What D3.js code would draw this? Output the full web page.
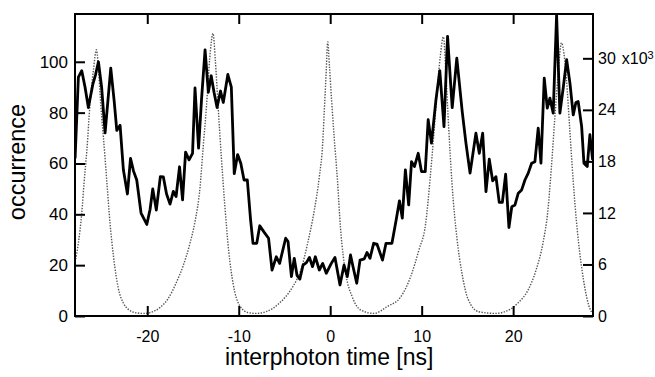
<!DOCTYPE html>
<html>
<head>
<meta charset="utf-8">
<script src="https://cdn.jsdelivr.net/npm/d3@7"></script>
<style>
  body { margin: 0; background: #fff; }
  text { font-family: "Liberation Sans", Arial, sans-serif; fill: #000; }
</style>
</head>
<body>
<script>
// histogram (occurrence, left axis)
var histX = [-27.89, -27.53, -27.16, -26.80, -26.44, -25.96, -25.65, -25.34, -24.99, -24.61,
  -23.99, -23.63, -23.33, -22.97, -22.61, -22.17, -21.83, -21.50, -21.15, -20.68,
  -20.05, -19.69, -19.40, -19.01, -18.57, -18.24, -17.89, -17.51, -17.15, -16.85,
  -16.47, -16.14, -15.81, -15.43, -15.05, -14.78, -14.39, -14.07, -13.68, -13.32,
  -13.01, -12.70, -12.37, -11.99, -11.69, -11.19, -10.81, -10.49, -10.12, -9.77,
  -9.42, -9.06, -8.71, -8.44, -8.03, -7.70, -7.23, -6.74, -6.36, -5.89,
  -5.53, -4.87, -4.61, -4.24, -3.93, -3.63, -3.32, -2.97, -2.60, -2.27,
  -1.93, -1.63, -1.19, -0.82, -0.43, 0.12, 0.52, 1.07, 1.51, 1.87,
  2.22, 2.52, 2.90, 3.26, 3.73, 4.02, 4.35, 4.75, 5.11, 5.72,
  6.10, 6.75, 7.21, 7.57, 7.88, 8.22, 8.58, 8.89, 9.21, 9.62,
  9.98, 10.39, 10.71, 11.07, 11.56, 11.98, 12.44, 12.83, 13.34, 13.84,
  14.43, 14.84, 15.29, 15.93, 16.30, 16.67, 17.03, 17.39, 17.76, 18.12,
  18.48, 18.82, 19.18, 19.54, 19.85, 20.20, 20.56, 20.93, 21.29, 21.65,
  22.02, 22.38, 22.74, 23.04, 23.40, 23.73, 24.02, 24.38, 24.75, 25.11,
  25.47, 25.85, 26.21, 26.57, 26.86, 27.11, 27.49, 27.74, 28.10, 28.39, 28.69];
var histY = [62, 94, 96.5, 90, 82, 91, 95, 100, 90, 72,
  97.5, 85, 73, 75, 57.5, 48, 62, 57, 53.5, 40.5,
  36, 42, 50, 41.7, 54.8, 54.7, 48, 44, 49, 47,
  58.7, 45.7, 64.5, 61.4, 64, 89.7, 66, 85, 104.7, 88,
  94.5, 88, 82, 88.5, 84, 95, 90, 56, 63.5, 60,
  53.5, 53.5, 38, 28.6, 28.6, 35.5, 33, 30.6, 18.1, 23.3,
  20.7, 30.6, 29.3, 15.5, 22.7, 16, 14.5, 20, 21, 23,
  19.4, 23.3, 18.1, 20.7, 16.8, 20.7, 23, 12.2, 20, 15.5,
  24, 19, 12.9, 22, 22.5, 25, 22.7, 28.6, 28.3, 22,
  28.6, 28.6, 37.8, 45.3, 38.5, 57.5, 43.7, 60.7, 58.8, 64,
  56.8, 56.8, 77.2, 68, 85, 96.5, 74.5, 110, 82, 101.4,
  80.5, 68, 56.2, 71.9, 64, 71.9, 48.9, 61.7, 53.2, 54.8,
  44.7, 44.7, 55.8, 34.8, 43, 43.7, 48.3, 49.6, 53.5, 56.2,
  60.1, 60.7, 73.9, 60.1, 93.6, 81.8, 85.7, 79.8, 118.5, 79.8,
  89.6, 100.8, 91.6, 79.1, 84, 84.4, 74.5, 60.1, 58.8, 71.3, 61.4];

// dotted reference curve (right axis, x10^3)
var refX = [-27.89, -27.53, -27.16, -26.91, -26.61, -26.25, -25.89, -25.56, -25.38, -25.16,
  -24.97, -24.80, -24.43, -24.07, -23.70, -23.41, -23.16, -22.61, -22.10, -21.33,
  -20.46, -19.69, -18.60, -17.73, -16.78, -16.09, -15.32, -14.78, -14.23, -13.90,
  -13.52, -13.17, -12.81, -12.56, -12.26, -11.90, -11.53, -11.09, -10.62, -9.89,
  -8.98, -8.11, -7.02, -5.56, -4.10, -3.19, -2.46, -1.74, -1.19, -0.82,
  -0.64, -0.46, -0.27, -0.08, 0.16, 0.42, 0.78, 1.13, 1.69, 2.42,
  3.33, 4.79, 6.24, 7.70, 8.80, 9.70, 10.44, 10.94, 11.31, 11.67,
  12.03, 12.38, 12.66, 12.95, 13.31, 13.86, 14.40, 15.06, 16.23, 18.04,
  19.87, 20.52, 21.62, 22.52, 23.26, 23.80, 24.16, 24.54, 24.90, 25.28,
  25.83, 26.19, 26.56, 27.01, 27.55, 28.10, 28.45, 28.72];
var refY = [6.3, 8.5, 12.0, 15.5, 19.2, 24.8, 28.6, 31.0, 29.5, 25.9,
  23.0, 20.9, 15.8, 10.8, 7.0, 4.7, 3.2, 1.5, 0.8, 0.4,
  0.3, 0.4, 1.0, 2.0, 4.0, 5.8, 8.5, 11.0, 15.0, 19.5,
  24.5, 30.0, 32.9, 29.8, 24.5, 18.5, 13.0, 7.5, 3.8, 1.2,
  0.4, 0.3, 0.5, 1.5, 3.4, 5.4, 8.5, 12.3, 16.2, 20.1,
  24.0, 27.9, 31.9, 29.0, 25.0, 21.0, 16.0, 10.2, 5.0, 2.2,
  0.7, 0.3, 1.1, 2.2, 4.6, 7.7, 10.8, 16.2, 20.9, 25.9,
  30.2, 32.5, 28.0, 22.0, 15.5, 9.0, 5.0, 2.0, 0.5, 0.3,
  0.9, 1.5, 3.0, 5.4, 8.5, 12.3, 17.0, 22.8, 27.9, 31.8,
  27.5, 21.7, 15.8, 10.0, 5.2, 1.9, 0.7, 0.3];

var xTicks = [-20, -10, 0, 10, 20];
var leftTicks = [0, 20, 40, 60, 80, 100];
var rightTicks = [0, 6, 12, 18, 24, 30];

var W = 655, H = 377;
var margin = {top: 14, right: 62, bottom: 61, left: 75};
var width = W - margin.left - margin.right;
var height = H - margin.top - margin.bottom;

var svg = d3.select("body").append("svg")
  .attr("width", W)
  .attr("height", H);

var g = svg.append("g")
  .attr("transform", "translate(" + margin.left + "," + margin.top + ")");

var x = d3.scaleLinear().domain([-27.9, 28.73]).range([0, width]);
var yL = d3.scaleLinear().domain([0, 118.8]).range([height, 0]);
var yR = d3.scaleLinear().domain([0, 35.16]).range([height, 0]);

g.append("clipPath").attr("id", "clip")
  .append("rect").attr("width", width).attr("height", height);

// dotted curve
var refLine = d3.line()
  .x(function(d, i) { return x(refX[i]); })
  .y(function(d) { return yR(d); })
  .curve(d3.curveMonotoneX);

g.append("path")
  .datum(refY)
  .attr("clip-path", "url(#clip)")
  .attr("fill", "none")
  .attr("stroke", "#555")
  .attr("stroke-width", 1.4)
  .attr("stroke-dasharray", "1.4,1.4")
  .attr("d", refLine);

// histogram line
var histLine = d3.line()
  .x(function(d, i) { return x(histX[i]); })
  .y(function(d) { return yL(d); });

g.append("path")
  .datum(histY)
  .attr("clip-path", "url(#clip)")
  .attr("fill", "none")
  .attr("stroke", "#000")
  .attr("stroke-width", 2.8)
  .attr("stroke-linejoin", "round")
  .attr("d", histLine);

// axes, ticks point inward
var xBottom = g.append("g")
  .attr("transform", "translate(0," + height + ")")
  .call(d3.axisBottom(x).tickValues(xTicks).tickSize(-10).tickPadding(15)
    .tickFormat(function(d) { return d === 0 ? "0" : d3.format("d")(d).replace("−", "-"); }));

g.append("g")
  .call(d3.axisTop(x).tickValues(xTicks).tickSize(-10).tickFormat(""));

var yLeft = g.append("g")
  .call(d3.axisLeft(yL).tickValues(leftTicks).tickSize(-10).tickPadding(7));

var yRight = g.append("g")
  .attr("transform", "translate(" + width + ",0)")
  .call(d3.axisRight(yR).tickValues(rightTicks).tickSize(-10).tickPadding(5));

g.selectAll(".domain").remove();
g.selectAll(".tick line").attr("stroke", "#000").attr("stroke-width", 2);
g.selectAll(".tick text").attr("fill", "#000");

xBottom.selectAll("text").attr("font-size", 16).attr("font-family", "Liberation Sans, Arial, sans-serif");
yLeft.selectAll("text").attr("font-size", 17).attr("font-family", "Liberation Sans, Arial, sans-serif");
yRight.selectAll("text").attr("font-size", 16).attr("font-family", "Liberation Sans, Arial, sans-serif");

// 30 x10^3 label
yRight.selectAll(".tick text").filter(function(d) { return d === 30; })
  .each(function() {
    var t = d3.select(this);
    t.append("tspan").attr("dx", 6).text("x10");
    t.append("tspan").attr("dy", "-0.45em").attr("font-size", 11).text("3");
  });

// frame
g.append("rect")
  .attr("width", width)
  .attr("height", height)
  .attr("fill", "none")
  .attr("stroke", "#000")
  .attr("stroke-width", 2);

// titles
svg.append("text")
  .attr("x", margin.left + x(0) - 1)
  .attr("y", 365)
  .attr("text-anchor", "middle")
  .attr("font-size", 23)
  .text("interphoton time [ns]");

svg.append("text")
  .attr("transform", "translate(25,162) rotate(-90)")
  .attr("text-anchor", "middle")
  .attr("font-size", 23.5)
  .text("occurrence");
</script>
</body>
</html>
